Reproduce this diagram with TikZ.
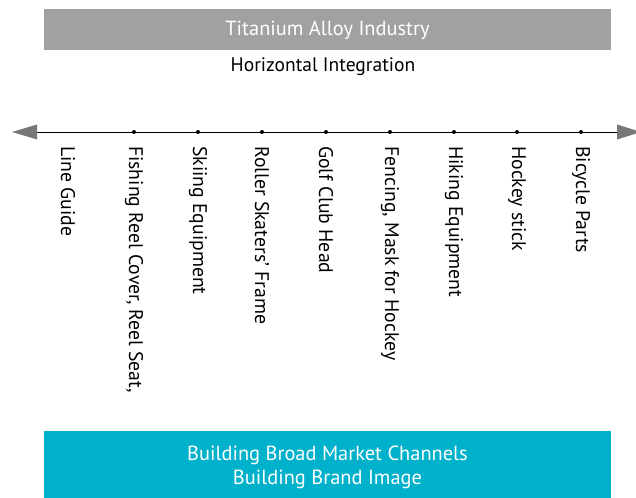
\documentclass[tikz,border=0pt]{standalone}
\usepackage{fontspec}
\setmainfont{PT Sans}
\definecolor{boxgray}{HTML}{A0A1A0}
\definecolor{boxcyan}{HTML}{00B1CC}
\definecolor{tipgray}{HTML}{777777}
\tikzset{
  banner/.style={inner sep=0pt, text=white, font=\fontsize{20.5}{24}\selectfont},
  item/.style={rotate=-90, anchor=west, inner sep=0pt, font=\fontsize{19.8}{23}\selectfont},
  tick/.style={circle, fill=black, inner sep=0pt, minimum size=4bp},
  axis/.style={line width=0.9bp, black},
  gtip/.style={tipgray, draw=none}
}
\begin{document}
\begin{tikzpicture}[x=1bp, y=-1bp]
\useasboundingbox (0,0) rectangle (636,498);
\begin{scope}
\clip (0,0) rectangle (636,498);
% top banner
\fill[boxgray] (44,9.5) rectangle (611,50.5);
\node[banner] (top) at (327.5,30) {Titanium Alloy Industry};
\node[inner sep=0pt, font=\fontsize{19.6}{23}\selectfont] (hint) at (323,66.5) {Horizontal Integration};
% axis with end tips
\coordinate (aL) at (37,132);
\coordinate (aR) at (617,132);
\draw[axis] (aL) -- (aR);
\fill[gtip] (aL) ++(0,-7.5) -- ++(0,15) -- (12,132) -- cycle;
\fill[gtip] (aR) ++(0,-7.5) -- ++(0,15) -- (641,132) -- cycle;
% ticks and labels
\foreach \n/\x in {d1/134,d2/198,d3/262,d4/326,d5/390,d6/454,d7/517,d8/581}
  \node[tick] (\n) at (\x,132) {};
\node[item] (l0) at (68,146) {Line Guide};
\node[item] (l1) at (134,146) {Fishing Reel Cover, Reel Seat,};
\node[item] (l2) at (198,146) {Skiing Equipment};
\node[item] (l3) at (262,146) {Roller Skaters’ Frame};
\node[item] (l4) at (326,146) {Golf Club Head};
\node[item] (l5) at (390,146) {Fencing, Mask for Hockey};
\node[item] (l6) at (454,146) {Hiking Equipment};
\node[item] (l7) at (517,146) {Hockey stick};
\node[item] (l8) at (581,146) {Bicycle Parts};
% bottom banner
\fill[boxcyan] (44,431) rectangle (611,498);
\node[banner, anchor=base] (bot1) at (327.5,460) {Building Broad Market Channels};
\node[banner, anchor=base] (bot2) at (327.5,484) {Building Brand Image};
\end{scope}
\end{tikzpicture}
\end{document}
